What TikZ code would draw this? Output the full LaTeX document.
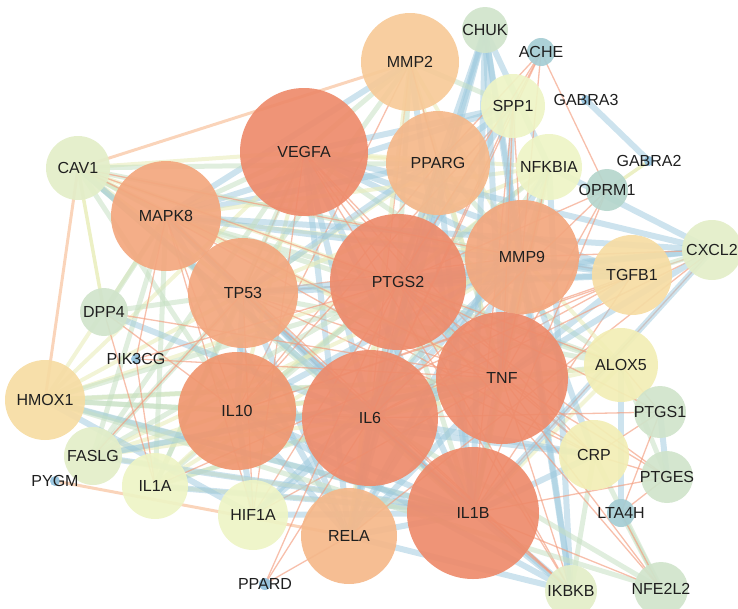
\documentclass[tikz,border=0pt]{standalone}
\usepackage{fontspec}
\setmainfont{Liberation Sans}
\pgfdeclarelayer{edges}
\pgfsetlayers{edges,main}

% node colours, from high degree to low
\definecolor{lvA}{HTML}{EE8B6B}
\definecolor{lvB}{HTML}{F0966F}
\definecolor{lvC}{HTML}{F3A77E}
\definecolor{lvD}{HTML}{F5B88A}
\definecolor{lvE}{HTML}{F7CA98}
\definecolor{lvF}{HTML}{F6DCA3}
\definecolor{lvG}{HTML}{F2EEB5}
\definecolor{lvH}{HTML}{EEF4C5}
\definecolor{lvI}{HTML}{E3EEC8}
\definecolor{lvJ}{HTML}{D0E4CB}
\definecolor{lvK}{HTML}{B5D6CC}
\definecolor{lvL}{HTML}{A5CDD4}
\definecolor{lvM}{HTML}{92C2DE}
% edge colours
\definecolor{eblue}{HTML}{9CC8DD}
\definecolor{egreen}{HTML}{C6E0C3}
\definecolor{epeach}{HTML}{F9CDAE}
\definecolor{eyellow}{HTML}{E9EDBB}
\definecolor{eorange}{HTML}{F39C7E}

\tikzset{
    gene/.style={
        circle,
        draw=none,
        inner sep=0pt,
        fill opacity=0.92,
        text opacity=1,
        text=black!88,
        font=\fontsize{16}{16}\selectfont
    },
    big/.style 2 args={gene, minimum size=#1, fill=#2},
    dot/.style 2 args={gene, minimum size=#1, fill=#2},
    every label/.style={
        inner sep=0pt,
        text=black!88,
        font=\fontsize{16}{16}\selectfont
    },
    e0/.style={draw=eblue, line width=6pt, opacity=0.5},
    e1/.style={draw=egreen, line width=5pt, opacity=0.55},
    e2/.style={draw=eorange, line width=1.3pt, opacity=0.65},
    e3/.style={draw=eyellow, line width=4pt, opacity=0.6},
    ep/.style={draw=epeach, line width=3pt, opacity=0.85},
    ey/.style={draw=eyellow, line width=3.5pt, opacity=0.85},
    % thin/.style={line width=1pt},
}

\begin{document}
\begin{tikzpicture}[x=1pt, y=-1pt]
    \useasboundingbox (0,0) rectangle (738,608);

    % hubs
    \node[big={136}{lvA}] (PTGS2) at (398,282) {PTGS2};
    \node[big={136}{lvA}] (IL6) at (370,418) {IL6};
    \node[big={132}{lvA}] (TNF) at (502,378) {TNF};
    \node[big={132}{lvA}] (IL1B) at (473,513) {IL1B};
    \node[big={128}{lvA}] (VEGFA) at (304,152) {VEGFA};
    \node[big={118}{lvB}] (IL10) at (237,411) {IL10};
    \node[big={114}{lvC}] (MMP9) at (522,257) {MMP9};
    \node[big={110}{lvC}] (MAPK8) at (166,216) {MAPK8};
    \node[big={110}{lvC}] (TP53) at (243,293) {TP53};
    \node[big={104}{lvD}] (PPARG) at (438,163) {PPARG};
    \node[big={96}{lvD}] (RELA) at (349,536) {RELA};
    \node[big={98}{lvE}] (MMP2) at (410,62) {MMP2};
    \node[big={80}{lvF}] (HMOX1) at (45,400) {HMOX1};
    \node[big={80}{lvF}] (TGFB1) at (632,275) {TGFB1};
    \node[big={74}{lvG}] (ALOX5) at (621,365) {ALOX5};
    \node[big={70}{lvG}] (CRP) at (594,455) {CRP};
    \node[big={66}{lvH}] (NFKBIA) at (549,167) {NFKBIA};
    \node[big={64}{lvH}] (SPP1) at (513,106) {SPP1};
    \node[big={66}{lvH}] (IL1A) at (155,486) {IL1A};
    \node[big={70}{lvH}] (HIF1A) at (253,515) {HIF1A};
    \node[big={64}{lvI}] (CAV1) at (78,168) {CAV1};
    \node[big={60}{lvI}] (CXCL2) at (712,250) {CXCL2};

    % small ones, text as label
    \node[dot={58}{lvI}, label=center:FASLG] (FASLG) at (93,456) {};
    \node[dot={52}{lvI}, label=center:IKBKB] (IKBKB) at (571,591) {};
    \node[dot={46}{lvJ}, label=center:CHUK] (CHUK) at (485,30) {};
    \node[dot={48}{lvJ}, label=center:DPP4] (DPP4) at (104,312) {};
    \node[dot={52}{lvJ}, label=center:PTGS1] (PTGS1) at (660,412) {};
    \node[dot={52}{lvJ}, label=center:PTGES] (PTGES) at (667,477) {};
    \node[dot={54}{lvJ}, label=center:NFE2L2] (NFE2L2) at (661,589) {};
    \node[dot={42}{lvK}, label=center:OPRM1] (OPRM1) at (607,190) {};
    \node[dot={28}{lvL}, label=center:ACHE] (ACHE) at (541,52) {};
    \node[dot={28}{lvL}, label=center:LTA4H] (LTA4H) at (621,513) {};
    \node[dot={10}{lvM}, label=center:PIK3CG] (PIK3CG) at (136,359) {};
    \node[dot={10}{lvM}, label=center:PYGM] (PYGM) at (55,481) {};
    \node[dot={12}{lvM}, label=center:PPARD] (PPARD) at (265,584) {};
    \node[dot={10}{lvM}, label=center:GABRA2] (GABRA2) at (649,161) {};
    \node[dot={10}{lvM}, label=center:GABRA3] (GABRA3) at (586,100) {};

    \begin{pgfonlayer}{edges}
        % hubs with each other
        \foreach \a [count=\i] in {PTGS2,IL6,TNF,IL1B,VEGFA,IL10,MMP9,MAPK8,TP53,PPARG,RELA,MMP2} {
            \foreach \b [count=\j] in {PTGS2,IL6,TNF,IL1B,VEGFA,IL10,MMP9,MAPK8,TP53,PPARG,RELA,MMP2} {
                \ifnum\j>\i
                    \pgfmathtruncatemacro\k{mod(\i*\j+\i,4)}
                    \draw[e\k] (\a.center) -- (\b.center);
                \fi
            }
        }
        % ring with hubs
        \foreach \a [count=\i] in {HMOX1,TGFB1,ALOX5,CRP,NFKBIA,SPP1,IL1A,HIF1A,CAV1,CXCL2,FASLG,IKBKB} {
            \foreach \b [count=\j] in {PTGS2,IL6,TNF,IL1B,VEGFA,IL10,TP53,MMP9,MAPK8} {
                \pgfmathtruncatemacro\k{mod(\i+2*\j,4)}
                \draw[e\k] (\a.center) -- (\b.center);
            }
        }
        \foreach \a/\b in {CHUK/NFKBIA, CHUK/RELA, CHUK/IKBKB, CHUK/TNF, CHUK/IL6,
            CHUK/PTGS2, CHUK/MMP9, CHUK/IL1B, GABRA3/GABRA2, NFKBIA/CXCL2,
            PTGS1/PTGES, ALOX5/LTA4H, IKBKB/NFKBIA, IKBKB/RELA, HMOX1/HIF1A,
            NFKBIA/RELA, CAV1/IL6, FASLG/TNF, DPP4/IL6, MMP9/TGFB1, HMOX1/IL1B,
            FASLG/IL1B, IL1A/IL1B, CXCL2/IL1B}
            \draw[e0] (\a.center) -- (\b.center);
        \foreach \a/\b in {CAV1/PPARG, HMOX1/NFE2L2, NFE2L2/IL6, DPP4/TP53, SPP1/MMP2,
            PTGES/ALOX5, CRP/NFE2L2, LTA4H/NFE2L2, TGFB1/CXCL2, DPP4/MAPK8,
            IKBKB/CRP, CAV1/MAPK8, HMOX1/TNF}
            \draw[e1] (\a.center) -- (\b.center);
        \foreach \a/\b in {CAV1/HMOX1, CAV1/MMP2, PYGM/RELA}
            \draw[ep] (\a.center) -- (\b.center);
        \foreach \a/\b in {CAV1/DPP4, GABRA2/OPRM1}
            \draw[ey] (\a.center) -- (\b.center);
        \foreach \a/\b in {ACHE/PPARG, ACHE/MMP9, ACHE/PTGS2, ACHE/OPRM1, ACHE/IL6,
            DPP4/IL10, DPP4/IL1A, DPP4/TNF, PIK3CG/IL1A, PIK3CG/MAPK8, PIK3CG/TNF,
            PIK3CG/PTGS2, PPARD/RELA, PPARD/IL6, PPARD/PTGS2, OPRM1/TNF, OPRM1/IL6,
            OPRM1/IL1B, OPRM1/PTGS2, LTA4H/PTGES, LTA4H/PTGS1, LTA4H/NFE2L2,
            PTGS1/PTGS2, PTGES/PTGS2, PTGS1/IL6, PTGES/IL1B, PTGES/TNF, NFE2L2/PTGS2,
            NFE2L2/IL1B, NFE2L2/TNF, CAV1/TNF, CAV1/PTGS2, CAV1/MMP9, FASLG/TP53,
            PTGS1/ALOX5, PTGES/CRP, CRP/PTGS1, IKBKB/IL6, CXCL2/RELA, TGFB1/IL1A,
            ACHE/SPP1, SPP1/TNF, NFKBIA/TNF, ALOX5/PTGS2}
            \draw[e2] (\a.center) -- (\b.center);
    \end{pgfonlayer}
\end{tikzpicture}
\end{document}
